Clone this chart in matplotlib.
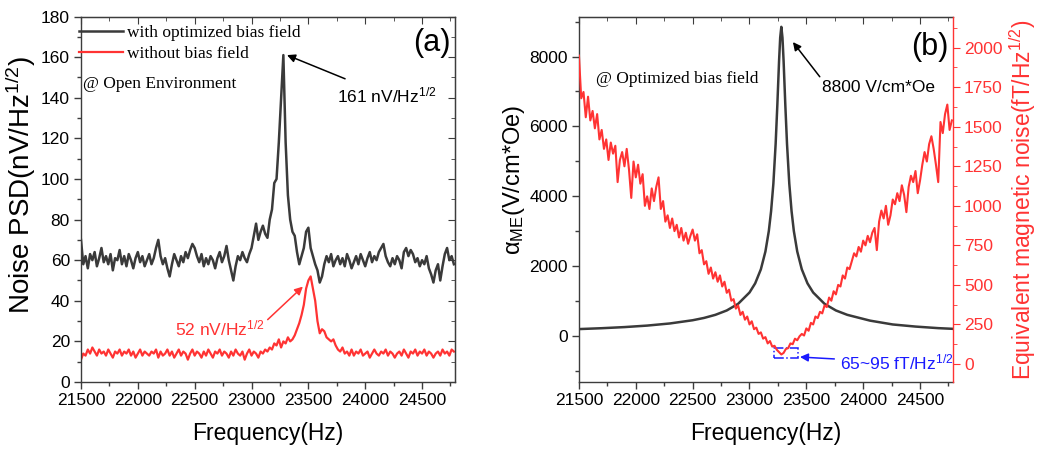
import numpy as np
import matplotlib
matplotlib.use("Agg")
import matplotlib.pyplot as plt
from matplotlib.ticker import MultipleLocator
from matplotlib.patches import Rectangle

plt.rcParams['font.family'] = ['Liberation Sans', 'DejaVu Sans']
plt.rcParams['mathtext.fontset'] = 'custom'
plt.rcParams['mathtext.rm'] = 'Liberation Sans'
plt.rcParams['mathtext.it'] = 'Liberation Sans:italic'

# ---- data ----
freq = np.arange(21500, 24781, 20)

# (a) noise PSD, nV/Hz^1/2
psd_bias = [
    70, 58, 62, 56, 63, 60, 64, 57, 61, 66,
    59, 62, 58, 63, 55, 61, 60, 65, 58, 62,
    57, 63, 60, 56, 61, 64, 59, 62, 57, 60,
    63, 58, 61, 66, 70, 62, 58, 61, 56, 52,
    58, 63, 60, 57, 62, 59, 64, 61, 65, 68,
    66, 62, 59, 63, 57, 61, 58, 62, 60, 56,
    61, 64, 59, 62, 67, 60, 55, 50, 57, 62,
    60, 64, 61, 59, 63, 66, 72, 78, 70, 74,
    77, 73, 71, 80, 85, 98, 100, 118, 140, 161,
    118, 92, 80, 74, 72, 64, 58, 62, 66, 74,
    76, 66, 62, 58, 55, 49, 52, 58, 62, 59,
    63, 57, 60, 62, 58, 61, 57, 63, 60, 56,
    59, 62, 58, 63, 60, 57, 61, 64, 59, 62,
    60, 64, 66, 68, 62, 59, 57, 61, 58, 62,
    60, 56, 64, 66, 62, 65, 63, 59, 61, 57,
    60, 58, 62, 56, 53, 49, 55, 58, 50, 57,
    63, 66, 60, 62, 58,
]
psd_nobias = [
    11, 14, 13, 16, 14, 17, 15, 13, 16, 14,
    15, 13, 16, 14, 12, 15, 14, 16, 13, 15,
    14, 16, 13, 15, 12, 14, 16, 13, 15, 14,
    13, 15, 14, 16, 12, 15, 13, 14, 16, 13,
    15, 12, 14, 16, 13, 15, 14, 11, 14, 16,
    13, 15, 14, 12, 15, 13, 16, 14, 12, 15,
    14, 16, 13, 15, 14, 12, 15, 13, 16, 14,
    13, 15, 11, 14, 16, 13, 15, 14, 12, 15,
    14, 16, 15, 17, 16, 19, 18, 21, 17, 20,
    19, 22, 20, 21, 23, 26, 29, 33, 38, 46,
    50, 52, 46, 40, 30, 24, 26, 25, 22, 21,
    20, 21, 18, 16, 15, 17, 14, 15, 13, 16,
    13, 15, 14, 16, 13, 14, 15, 12, 14, 16,
    14, 13, 15, 14, 16, 13, 15, 14, 12, 14,
    15, 13, 16, 14, 12, 15, 14, 16, 13, 15,
    14, 16, 13, 15, 14, 12, 14, 15, 13, 16,
    14, 15, 13, 16, 15,
]

# (b) equivalent magnetic noise, fT/Hz^1/2
mag_noise = [
    1950, 1680, 1720, 1560, 1690, 1540, 1600, 1490, 1580, 1420,
    1480, 1360, 1420, 1290, 1400, 1330, 1380, 1150, 1290, 1340,
    1250, 1360, 1230, 1050, 1280, 1180, 1260, 1140, 1200, 1000,
    1060, 980, 1110, 1030, 1120, 1180, 980, 1030, 900, 940,
    860, 920, 840, 880, 800, 860, 780, 830, 760, 810,
    850, 780, 820, 700, 720, 630, 650, 570, 610, 540,
    580, 520, 560, 490, 520, 450, 470, 400, 410, 350,
    370, 310, 330, 280, 300, 250, 270, 220, 230, 190,
    200, 160, 170, 130, 145, 110, 115, 90, 75, 60,
    70, 95, 100, 130, 125, 160, 150, 175, 190, 180,
    225, 210, 260, 250, 300, 290, 330, 320, 370, 360,
    420, 400, 460, 440, 500, 490, 560, 540, 610, 600,
    650, 700, 680, 740, 710, 780, 750, 810, 770, 830,
    860, 720, 900, 970, 920, 1000, 880, 940, 1040, 1010,
    1080, 1030, 1130, 1070, 960, 1120, 1190, 1150, 1220, 1080,
    1160, 1260, 1340, 1280, 1390, 1440, 1360, 1260, 1150, 1530,
    1460, 1580, 1640, 1480, 1540,
]

# (b) ME coefficient, V/cm*Oe
f_me = [21500, 21700, 21900, 22100, 22300, 22500, 22600, 22700, 22800, 22900,
        23000, 23050, 23100, 23140, 23170, 23190, 23210, 23230, 23245, 23260,
        23270, 23280, 23290, 23300, 23315, 23330, 23350, 23370, 23390, 23420,
        23460, 23510, 23560, 23660, 23760, 23860, 24060, 24260, 24460, 24660,
        24790]
alpha_me = [198, 223, 255, 298, 359, 451, 517, 606, 731, 921,
            1245, 1507, 1909, 2418, 3006, 3575, 4360, 5500, 6620, 7870,
            8540, 8850, 8540, 7870, 6620, 5500, 4360, 3575, 3006, 2418,
            1909, 1507, 1245, 921, 731, 606, 440, 330, 270, 225,
            205]

frame = '#3c3c3c'
dark = '#3a3a3a'
red = '#ff3333'
blue = '#1a1aff'
serif = {'family': 'Liberation Serif', 'size': 12.5}

fig = plt.figure(figsize=(10.37, 4.49), dpi=100)
axa = fig.add_axes([0.0781, 0.1492, 0.3607, 0.814])
axb = fig.add_axes([0.5583, 0.1492, 0.3607, 0.814])


def base_style(ax):
    for s in ax.spines.values():
        s.set_color(frame)
        s.set_linewidth(1.0)
    ax.set_xlim(21500, 24790)
    ax.xaxis.set_major_locator(MultipleLocator(500))
    ax.xaxis.set_minor_locator(MultipleLocator(250))
    ax.tick_params(which='both', direction='out', color=frame, labelsize=12.5,
                   top=False, right=False)
    ax.tick_params(which='major', length=5, width=1, pad=3)
    ax.tick_params(which='minor', length=3, width=1)
    # inward ticks along the top edge
    top = ax.secondary_xaxis('top')
    top.xaxis.set_major_locator(MultipleLocator(500))
    top.xaxis.set_minor_locator(MultipleLocator(250))
    top.tick_params(which='both', direction='in', color=frame, labeltop=False)
    top.tick_params(which='major', length=5)
    top.tick_params(which='minor', length=3)
    top.spines['top'].set_color(frame)
    ax.set_xlabel('Frequency(Hz)', fontsize=16.5, labelpad=10)


# ---- panel (a) ----
base_style(axa)
la, = axa.plot(freq, psd_bias, color=dark, lw=1.8, label='with optimized bias field')
lb, = axa.plot(freq, psd_nobias, color=red, lw=1.6, label='without bias field')
axa.set_ylim(0, 180)
axa.yaxis.set_major_locator(MultipleLocator(20))
axa.yaxis.set_minor_locator(MultipleLocator(10))
axa.set_ylabel(r'Noise PSD(nV/Hz$^{1/2}$)', fontsize=20)
axa.yaxis.set_label_coords(-0.115, 0.54)
right = axa.secondary_yaxis('right')
right.yaxis.set_major_locator(MultipleLocator(20))
right.yaxis.set_minor_locator(MultipleLocator(10))
right.tick_params(which='both', direction='in', color=frame, labelright=False)
right.tick_params(which='major', length=5)
right.tick_params(which='minor', length=3)
right.spines['right'].set_color(frame)

axa.legend(handles=[la, lb], loc='upper left', bbox_to_anchor=(-0.005, 0.977),
           prop=serif, frameon=False, handlelength=2.5, handletextpad=0.25,
           labelspacing=0.3, borderaxespad=0, borderpad=0)
axa.text(0.006, 0.815, '@ Open Environment', transform=axa.transAxes,
         ha='left', va='center', fontdict=serif)
axa.text(0.987, 0.927, '(a)', transform=axa.transAxes, ha='right', va='center',
         fontsize=22)
axa.annotate(r'161 nV/Hz$^{1/2}$', xy=(23312, 161), xytext=(23750, 141),
             ha='left', va='center', fontsize=12.5,
             arrowprops=dict(arrowstyle='-|>', color='black', lw=1.1,
                             mutation_scale=12, shrinkA=8, shrinkB=0))
axa.annotate(r'52 nV/Hz$^{1/2}$', xy=(23452, 47), xytext=(22327, 26.5),
             ha='left', va='center', fontsize=12.5, color=red,
             arrowprops=dict(arrowstyle='-|>', color=red, lw=1.1,
                             mutation_scale=12, shrinkA=0, shrinkB=0,
                             relpos=(1.0, 0.8)))

# ---- panel (b) ----
base_style(axb)
axb.plot(f_me, alpha_me, color=dark, lw=1.8)
axb.set_ylim(-1317, 9145)
axb.yaxis.set_major_locator(MultipleLocator(2000))
axb.yaxis.set_minor_locator(MultipleLocator(1000))
axb.set_ylabel(r'α$_{\mathregular{ME}}$(V/cm*Oe)', fontsize=17)
axb.yaxis.set_label_coords(-0.14, 0.553)
axb.spines['right'].set_visible(False)

ax2 = axb.twinx()
ax2.plot(freq, mag_noise, color=red, lw=1.5)
ax2.set_ylim(-114, 2197)
ax2.yaxis.set_major_locator(MultipleLocator(250))
ax2.yaxis.set_minor_locator(MultipleLocator(125))
for s in ('left', 'top', 'bottom'):
    ax2.spines[s].set_visible(False)
ax2.spines['right'].set_color(red)
ax2.spines['right'].set_linewidth(1.0)
ax2.tick_params(which='both', direction='out', color=red, labelcolor=red,
                labelsize=12.5)
ax2.tick_params(which='major', length=5, pad=3)
ax2.tick_params(which='minor', length=3)
ax2.set_ylabel(r'Equivalent magnetic noise(fT/Hz$^{1/2}$)', color=red,
               fontsize=16.5, labelpad=3)

axb.text(0.045, 0.829, '@ Optimized bias field', transform=axb.transAxes,
         ha='left', va='center', fontdict=serif)
axb.text(0.987, 0.917, '(b)', transform=axb.transAxes, ha='right', va='center',
         fontsize=22)
axb.annotate('8800 V/cm*Oe', xy=(23382, 8414), xytext=(23637, 7127),
             ha='left', va='center', fontsize=12.5,
             arrowprops=dict(arrowstyle='-|>', color='black', lw=1.1,
                             mutation_scale=12, shrinkA=0, shrinkB=0,
                             relpos=(0.0, 1.0)))
ax2.add_patch(Rectangle((23215, 38), 212, 64, fill=False, edgecolor=blue,
                        lw=1.1, linestyle='-.'))
ax2.annotate(r'65~95 fT/Hz$^{1/2}$', xy=(23444, 44), xytext=(23795, 10),
             ha='left', va='center', fontsize=12.5, color=blue,
             arrowprops=dict(arrowstyle='-|>', color=blue, lw=1.1,
                             mutation_scale=12, shrinkA=2, shrinkB=0))

fig.savefig('out.png', dpi=100)
